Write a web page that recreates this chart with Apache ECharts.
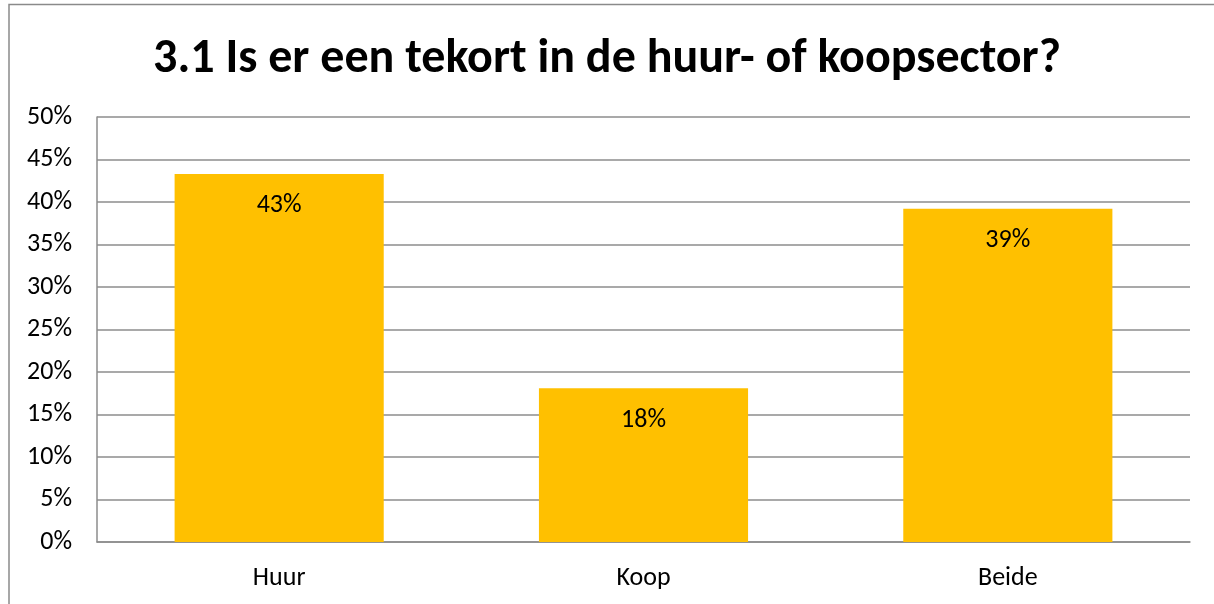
<!DOCTYPE html>
<html>
<head>
<meta charset="utf-8">
<script src="https://cdn.jsdelivr.net/npm/echarts@6/dist/echarts.min.js"></script>
<style>
  html, body { margin: 0; padding: 0; background: #fff; }
  #chart { width: 1214px; height: 604px; }
</style>
</head>
<body>
<div id="chart"></div>
<script>
// data
const titleText = '3.1 Is er een tekort in de huur- of koopsector?';
const categories = ['Huur', 'Koop', 'Beide'];
const shares = [0.433, 0.181, 0.392];

const fontFam = 'Carlito, Lato, "Open Sans", sans-serif';
const gridColor = '#8c8c8c';

var chart = echarts.init(document.getElementById('chart'));

chart.setOption({
    backgroundColor: '#fff',
    animation: false,
    textStyle: { fontFamily: fontFam },
    title: {
        text: titleText,
        left: 'center',
        top: 31,
        textStyle: { fontSize: 48, fontWeight: 'bold', color: '#000', fontFamily: fontFam }
    },
    // outer frame: only the top and left edges fall inside the picture
    graphic: [{
        type: 'polyline',
        shape: { points: [[9, 604], [9, 4.5], [1214, 4.5]] },
        style: { fill: null, stroke: '#8a8a8a', lineWidth: 1.5 },
        silent: true
    }],
    grid: { left: 97, right: 24, top: 117, bottom: 62, containLabel: false },
    xAxis: {
        type: 'category',
        data: categories,
        axisLine: { show: true, lineStyle: { color: gridColor, width: 1.5 } },
        axisTick: { show: false },
        axisLabel: { color: '#000', fontSize: 26, margin: 23, fontFamily: fontFam }
    },
    yAxis: {
        type: 'value',
        min: 0,
        max: 0.5,
        interval: 0.05,
        axisLine: { show: true, lineStyle: { color: gridColor, width: 1.5 } },
        axisTick: { show: false },
        splitLine: { lineStyle: { color: gridColor, width: 1.5 } },
        axisLabel: {
            color: '#000', fontSize: 26, margin: 25, fontFamily: fontFam,
            formatter: function (v) { return Math.round(v * 100) + '%'; }
        }
    },
    series: [{
        type: 'bar',
        data: shares,
        barWidth: '57.4%',
        itemStyle: { color: '#FFC000' },
        label: {
            show: true,
            position: 'insideTop',
            distance: 19,
            color: '#000',
            fontSize: 26,
            fontFamily: fontFam,
            formatter: function (p) { return Math.round(p.value * 100) + '%'; }
        }
    }]
});
</script>
</body>
</html>
